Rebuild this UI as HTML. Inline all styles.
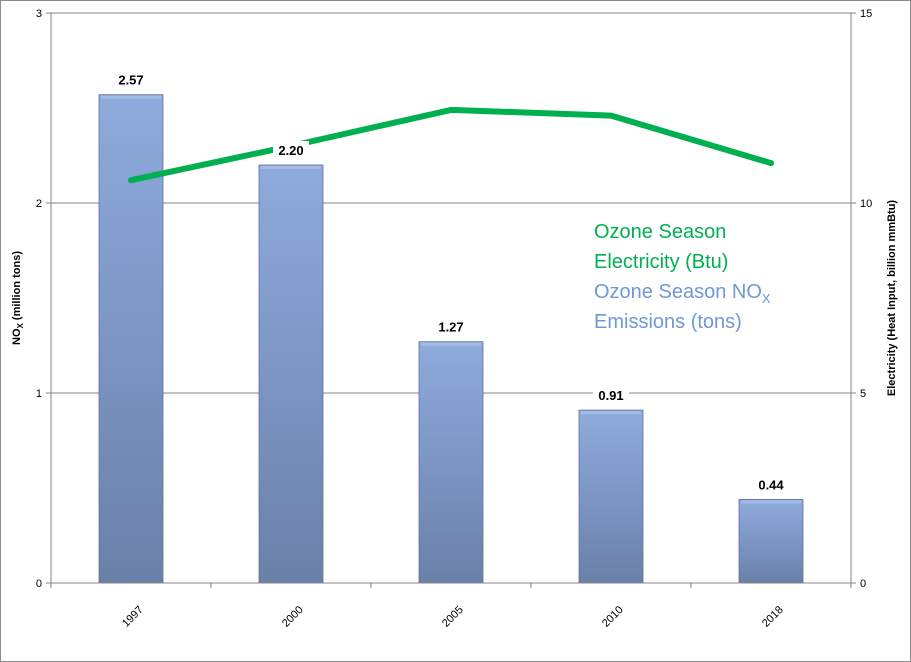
<!DOCTYPE html>
<html><head><meta charset="utf-8"><style>
body{margin:0;background:#fff;}
svg{display:block;font-family:"Liberation Sans",Arial,sans-serif;}
</style></head><body>
<svg id="chart" width="911" height="662">
<defs>
<linearGradient id="bg" x1="0" y1="0" x2="0" y2="1">
<stop offset="0" stop-color="#8eabdd"/><stop offset="1" stop-color="#6b80a9"/>
</linearGradient>
</defs>
<rect x="0.5" y="0.5" width="910" height="661" fill="#fff" stroke="#8c8c8c"/>
<g id="grid"></g><g id="bars"></g><g id="line"></g><g id="axes"></g><g id="labels"></g>
<text x="594" y="238" font-size="20" fill="#00b050">Ozone Season</text>
<text x="594" y="268" font-size="20" fill="#00b050">Electricity (Btu)</text>
<text x="594" y="298" font-size="20" fill="#6e98d8">Ozone Season NO<tspan font-size="13" dy="5">X</tspan></text>
<text x="594" y="328" font-size="20" fill="#6e98d8">Emissions (tons)</text>
<text transform="translate(20,298) rotate(-90)" text-anchor="middle" font-size="11" font-weight="bold">NO<tspan font-size="8" dy="3">X</tspan><tspan dy="-3"> (million tons)</tspan></text>
<text transform="translate(895,298) rotate(-90)" text-anchor="middle" font-size="11" font-weight="bold">Electricity (Heat Input, billion mmBtu)</text>
</svg>
<script>
const categories=["1997","2000","2005","2010","2018"];
const noxValues=[2.57,2.20,1.27,0.91,0.44];
const electricityValues=[10.6,11.5,12.45,12.3,11.05];
const leftTicks=[0,1,2,3];
const rightTicks=[0,5,10,15];
const NS="http://www.w3.org/2000/svg";
const X0=51,X1=851,Y0=583,Y1=13;
const catW=(X1-X0)/categories.length;
const xc=i=>X0+catW*(i+0.5);
const yL=v=>Y0-(v/3)*(Y0-Y1);
const yR=v=>Y0-(v/15)*(Y0-Y1);
function mk(tag,attrs,parent){const e=document.createElementNS(NS,tag);for(const k in attrs)e.setAttribute(k,attrs[k]);document.getElementById(parent).appendChild(e);return e;}
leftTicks.forEach(t=>{
 if(t>0){const g=mk('line',{x1:X0,x2:X1,y1:yL(t),y2:yL(t),stroke:'#868686'},'grid');
 
 }
 const l=mk('text',{x:X0-9,y:yL(t)+4,'text-anchor':'end','font-size':11},'axes');l.textContent=t;
 
 
 mk('line',{x1:X0-5,x2:X0,y1:yL(t),y2:yL(t),stroke:'#868686'},'axes');
});
rightTicks.forEach(t=>{
 const l=mk('text',{x:X1+9,y:yR(t)+4,'font-size':11},'axes');l.textContent=t;
 
 
 mk('line',{x1:X1,x2:X1+5,y1:yR(t),y2:yR(t),stroke:'#868686'},'axes');
});
mk('line',{x1:X0,x2:X0,y1:Y1,y2:Y0,stroke:'#868686'},'axes');
mk('line',{x1:X1,x2:X1,y1:Y1,y2:Y0,stroke:'#868686'},'axes');
mk('line',{x1:X0,x2:X1,y1:Y0,y2:Y0,stroke:'#868686'},'axes');
for(let i=0;i<=categories.length;i++)mk('line',{x1:X0+catW*i,x2:X0+catW*i,y1:Y0,y2:Y0+5,stroke:'#868686'},'axes');
categories.forEach((c,i)=>{
 const v=noxValues[i],w=64,x=xc(i)-w/2,y=yL(v);
 const b=mk('rect',{x:x,y:y,width:w,height:Y0-y,fill:'url(#bg)',stroke:'#5f7397','stroke-width':0.8},'bars');
 
 
 mk('rect',{x:x+2,y:y+1,width:w-4,height:3,fill:'#a8c0e8',opacity:0.8},'bars');
 const t=mk('text',{transform:`translate(${xc(i)+4},${Y0+36}) rotate(-45)`,'text-anchor':'middle','font-size':11},'axes');
 t.textContent=c;
 
 
});
const pts=electricityValues.map((v,i)=>xc(i)+','+yR(v)).join(' ');
const pl=mk('polyline',{points:pts,fill:'none',stroke:'#00b050','stroke-width':6,'stroke-linecap':'round','stroke-linejoin':'round'},'line');


categories.forEach((c,i)=>{
 const y=yL(noxValues[i])-10;
 mk('rect',{x:xc(i)-18,y:y-14,width:36,height:18,fill:'#fff'},'labels');
 const t=mk('text',{x:xc(i),y:y,'text-anchor':'middle','font-size':13,'font-weight':'bold'},'labels');
 t.textContent=noxValues[i].toFixed(2);
 
 
});
</script>
</body></html>
